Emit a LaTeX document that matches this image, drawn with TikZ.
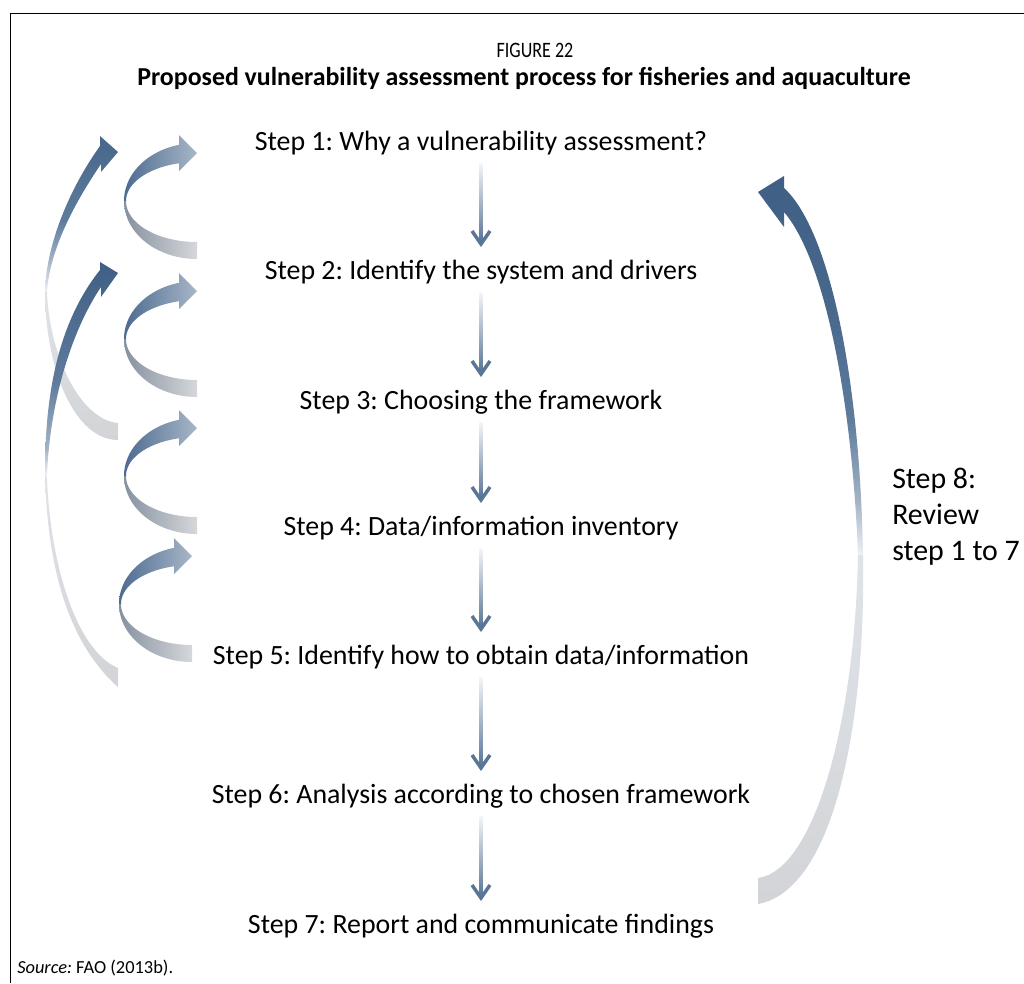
\documentclass[tikz,border=0pt]{standalone}
\usepackage{fontspec}
\setmainfont{Carlito}
\usetikzlibrary{calc}
\frenchspacing
\definecolor{dkblue}{HTML}{3F5F84}
\definecolor{dkblueA}{HTML}{47678B}
\definecolor{midblue}{HTML}{5E7B9C}
\definecolor{ltblue}{HTML}{A3B4C7}
\definecolor{paleblue}{HTML}{EEF1F4}
\definecolor{cupL}{HTML}{4D6B90}
\definecolor{cupR}{HTML}{A8B6C7}
\definecolor{cloL}{HTML}{86919F}
\definecolor{cloR}{HTML}{D5D7DA}
\definecolor{arrowblue}{HTML}{5A7697}
\definecolor{shaftTop}{HTML}{F4F6F8}
\definecolor{lowTop}{HTML}{DFE3E8}
\definecolor{lowMid}{HTML}{BCC1C8}
\definecolor{lowBot}{HTML}{D2D4D7}
\pgfdeclareverticalshading{Aup}{100bp}{color(0bp)=(paleblue); color(25bp)=(paleblue); color(35bp)=(ltblue); color(48bp)=(midblue); color(75bp)=(dkblueA); color(100bp)=(dkblueA)}
\pgfdeclareverticalshading{Bup}{100bp}{color(0bp)=(paleblue); color(25bp)=(paleblue); color(31bp)=(ltblue); color(47bp)=(midblue); color(75bp)=(dkblue); color(100bp)=(dkblue)}
\pgfdeclareverticalshading{Rup}{100bp}{color(0bp)=(paleblue); color(25bp)=(paleblue); color(32bp)=(ltblue); color(43bp)=(midblue); color(58bp)=(dkblueA); color(75bp)=(dkblue); color(100bp)=(dkblue)}
\tikzset{
  steptext/.style={font=\fontsize{20.9}{24}\selectfont, inner sep=0pt},
  headstyle/.style={draw=arrowblue, line width=2.6pt},
  frameline/.style={line width=1.1pt, black},
}
\newcommand\Carrow[2]{%
\begin{scope}[shift={(#1,#2)}]
 \shade[left color=cupL, right color=cupR]
   plot[variable=\t, domain=255.7:180, samples=40] ({73*cos(\t)},{49+58*sin(\t)})
   -- plot[variable=\t, domain=180:255.3, samples=40] ({71*cos(\t)},{49+39*sin(\t)}) -- cycle
   (-18,19) -- (0,1) -- (-18,-17) -- cycle;
 \shade[left color=cloL, right color=cloR]
   plot[variable=\t, domain=180:90, samples=40] ({73*cos(\t)},{49+58*sin(\t)})
   -- plot[variable=\t, domain=90:180, samples=40] ({71*cos(\t)},{49+41*sin(\t)}) -- cycle;
\end{scope}}
\newcommand\vconn[2]{%
 \shade[top color=shaftTop, bottom color=arrowblue] ($(#1.center)+(-1.6,20)$) rectangle ($(#2.center)+(1.6,-31)$);
 \draw[headstyle] ($(#2.center)+(-9,-41)$) -- ($(#2.center)+(0,-28)$) -- ($(#2.center)+(9,-41)$);
}
\begin{document}
\begin{tikzpicture}[x=0.75pt,y=-0.75pt]
\useasboundingbox (0,0) rectangle (1024,983);
% frame
\draw[frameline] (10.5,983) -- (10.5,13.5) -- (1024,13.5);
% titles
\node[font=\fontsize{16.5}{19}\selectfont, inner sep=0pt] (fig) at (535,50) {\scalebox{0.82}[1]{FIGURE 22}};
\node[font=\bfseries\fontsize{19.4}{22}\selectfont, inner sep=0pt] (title) at (524,78) {Proposed vulnerability assessment process for fisheries and aquaculture};
% steps
\node[steptext] (s1) at (481,143) {Step 1: Why a vulnerability assessment?};
\node[steptext] (s2) at (481,272) {Step 2: Identify the system and drivers};
\node[steptext] (s3) at (481,402) {Step 3: Choosing the framework};
\node[steptext] (s4) at (481,528) {Step 4: Data/information inventory};
\node[steptext] (s5) at (481,657) {Step 5: Identify how to obtain data/information};
\node[steptext] (s6) at (481,796) {Step 6: Analysis according to chosen framework};
\node[steptext] (s7) at (481,926) {Step 7: Report and communicate findings};
\node[font=\fontsize{22.4}{27}\selectfont, inner sep=0pt, anchor=west, align=left] (s8) at (892,517) {Step 8:\\Review\\step 1 to 7};
% source
\node[font=\fontsize{13.8}{16}\selectfont, inner sep=0pt, anchor=west] (src) at (17,968) {\itshape Source:\upshape\ FAO (2013b).};
% vertical connectors
\vconn{s1}{s2}
\vconn{s2}{s3}
\vconn{s3}{s4}
\vconn{s4}{s5}
\vconn{s5}{s6}
\vconn{s6}{s7}
% long left arrow A
\shade[top color=lowTop, middle color=lowMid, bottom color=lowBot]
  (45,290) .. controls (45,370) and (75,440) .. (118,440) -- (118,423)
  .. controls (82,420) and (50,360) .. (47,292) -- cycle;
\shade[shading=Aup]
  (45,290) .. controls (47,240) and (72,185) .. (100,146) -- (100,136) -- (118,152)
  -- (101,172) -- (101,164) .. controls (80,195) and (50,245) .. (47,292) -- cycle;
% long left arrow B
\shade[top color=lowTop, middle color=lowMid, bottom color=lowBot]
  (45,473) .. controls (47,560) and (65,640) .. (118,687) -- (118,668)
  .. controls (75,650) and (50,560) .. (47,478) -- cycle;
\shade[shading=Bup]
  (45,473) .. controls (45,400) and (56,325) .. (100,270) -- (100,262) -- (118,273)
  -- (101,297) -- (101,287) .. controls (72,330) and (50,400) .. (47,475) -- cycle;
% small C arrows
\Carrow{197}{152}
\Carrow{197}{290}
\Carrow{197}{427}
\Carrow{192}{555}
% right arrow (step 8)
\shade[top color=lowTop, middle color=lowMid, bottom color=lowBot]
  (863,555) .. controls (866,720) and (835,890) .. (758,904) -- (758,878)
  .. controls (815,870) and (855,720) .. (858,555) -- cycle;
\shade[shading=Rup]
  (863,555) .. controls (860,380) and (830,230) .. (784,188) -- (784,176) -- (758,192)
  -- (784,227) -- (784,212) .. controls (825,260) and (852,400) .. (858,555) -- cycle;
\end{tikzpicture}
\end{document}
